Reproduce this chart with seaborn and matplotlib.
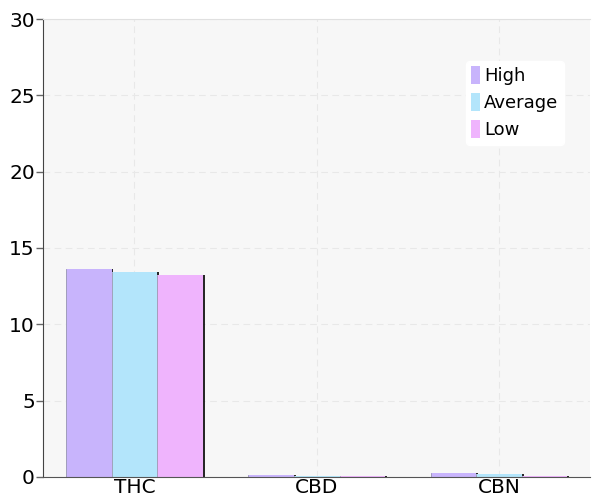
import matplotlib
matplotlib.use("Agg")
import matplotlib.pyplot as plt
import matplotlib.patheffects as pe
import seaborn as sns
import pandas as pd

categories = ["THC", "CBD", "CBN"]
series = ["High", "Average", "Low"]
high = [13.6, 0.10, 0.26]
average = [13.4, 0.08, 0.17]
low = [13.2, 0.06, 0.08]
colors = ["#c8b4fc", "#b3e5fb", "#efb4fd"]
yticks = [0, 5, 10, 15, 20, 25, 30]

rows = []
for s, vals in zip(series, [high, average, low]):
    for c, v in zip(categories, vals):
        rows.append({"cat": c, "series": s, "value": v})
df = pd.DataFrame(rows)

sns.set_style("white")
plt.rcParams["font.family"] = ["DejaVu Sans"]
plt.rcParams["text.color"] = "black"

fig, ax = plt.subplots(figsize=(5.92, 5.01), dpi=100)
fig.subplots_adjust(left=0.073, right=0.997, top=0.962, bottom=0.048)

sns.barplot(data=df, x="cat", y="value", hue="series", order=categories,
            hue_order=series, palette=colors, width=0.75, saturation=1,
            linewidth=0, ax=ax, legend=True)

for p in ax.patches:
    p.set_path_effects([pe.SimplePatchShadow(offset=(1.3, 0), shadow_rgbFace="#111111", alpha=0.9),
                        pe.Normal()])
    x0 = p.get_x()
    ax.plot([x0, x0], [0, p.get_height()], color="#9a9ab0", linewidth=0.6, zorder=p.get_zorder() + 0.1)

ax.set_facecolor("#f7f7f7")
ax.set_ylim(0, 30)
ax.set_yticks(yticks)
ax.set_xlim(-0.5, 2.5)
ax.set_xlabel("")
ax.set_ylabel("")
ax.grid(True, color="#e8e8e8", linestyle=(0, (6, 4)), linewidth=0.8)
ax.set_axisbelow(True)
ax.tick_params(axis="y", labelsize=14.5, length=5, width=1, color="#666666",
               labelcolor="black", left=True, pad=1)
ax.tick_params(axis="x", labelsize=14.5, length=0, pad=1, labelcolor="black")
ax.spines["right"].set_visible(False)
ax.spines["top"].set_color("#e0e0e0")
ax.spines["left"].set_color("#444444")
ax.spines["bottom"].set_color("#555555")

leg = ax.legend(loc="upper right", bbox_to_anchor=(0.968, 0.928), fontsize=13,
                frameon=True, fancybox=True, framealpha=1, edgecolor="white",
                handlelength=0.45, handleheight=1.1, handletextpad=0.25,
                labelspacing=0.45, borderpad=0.3, labelcolor="black")
leg.get_frame().set_facecolor("white")
for h in leg.legend_handles:
    h.set_path_effects([])
    h.set_linewidth(0)

fig.savefig("out.png", dpi=100)
